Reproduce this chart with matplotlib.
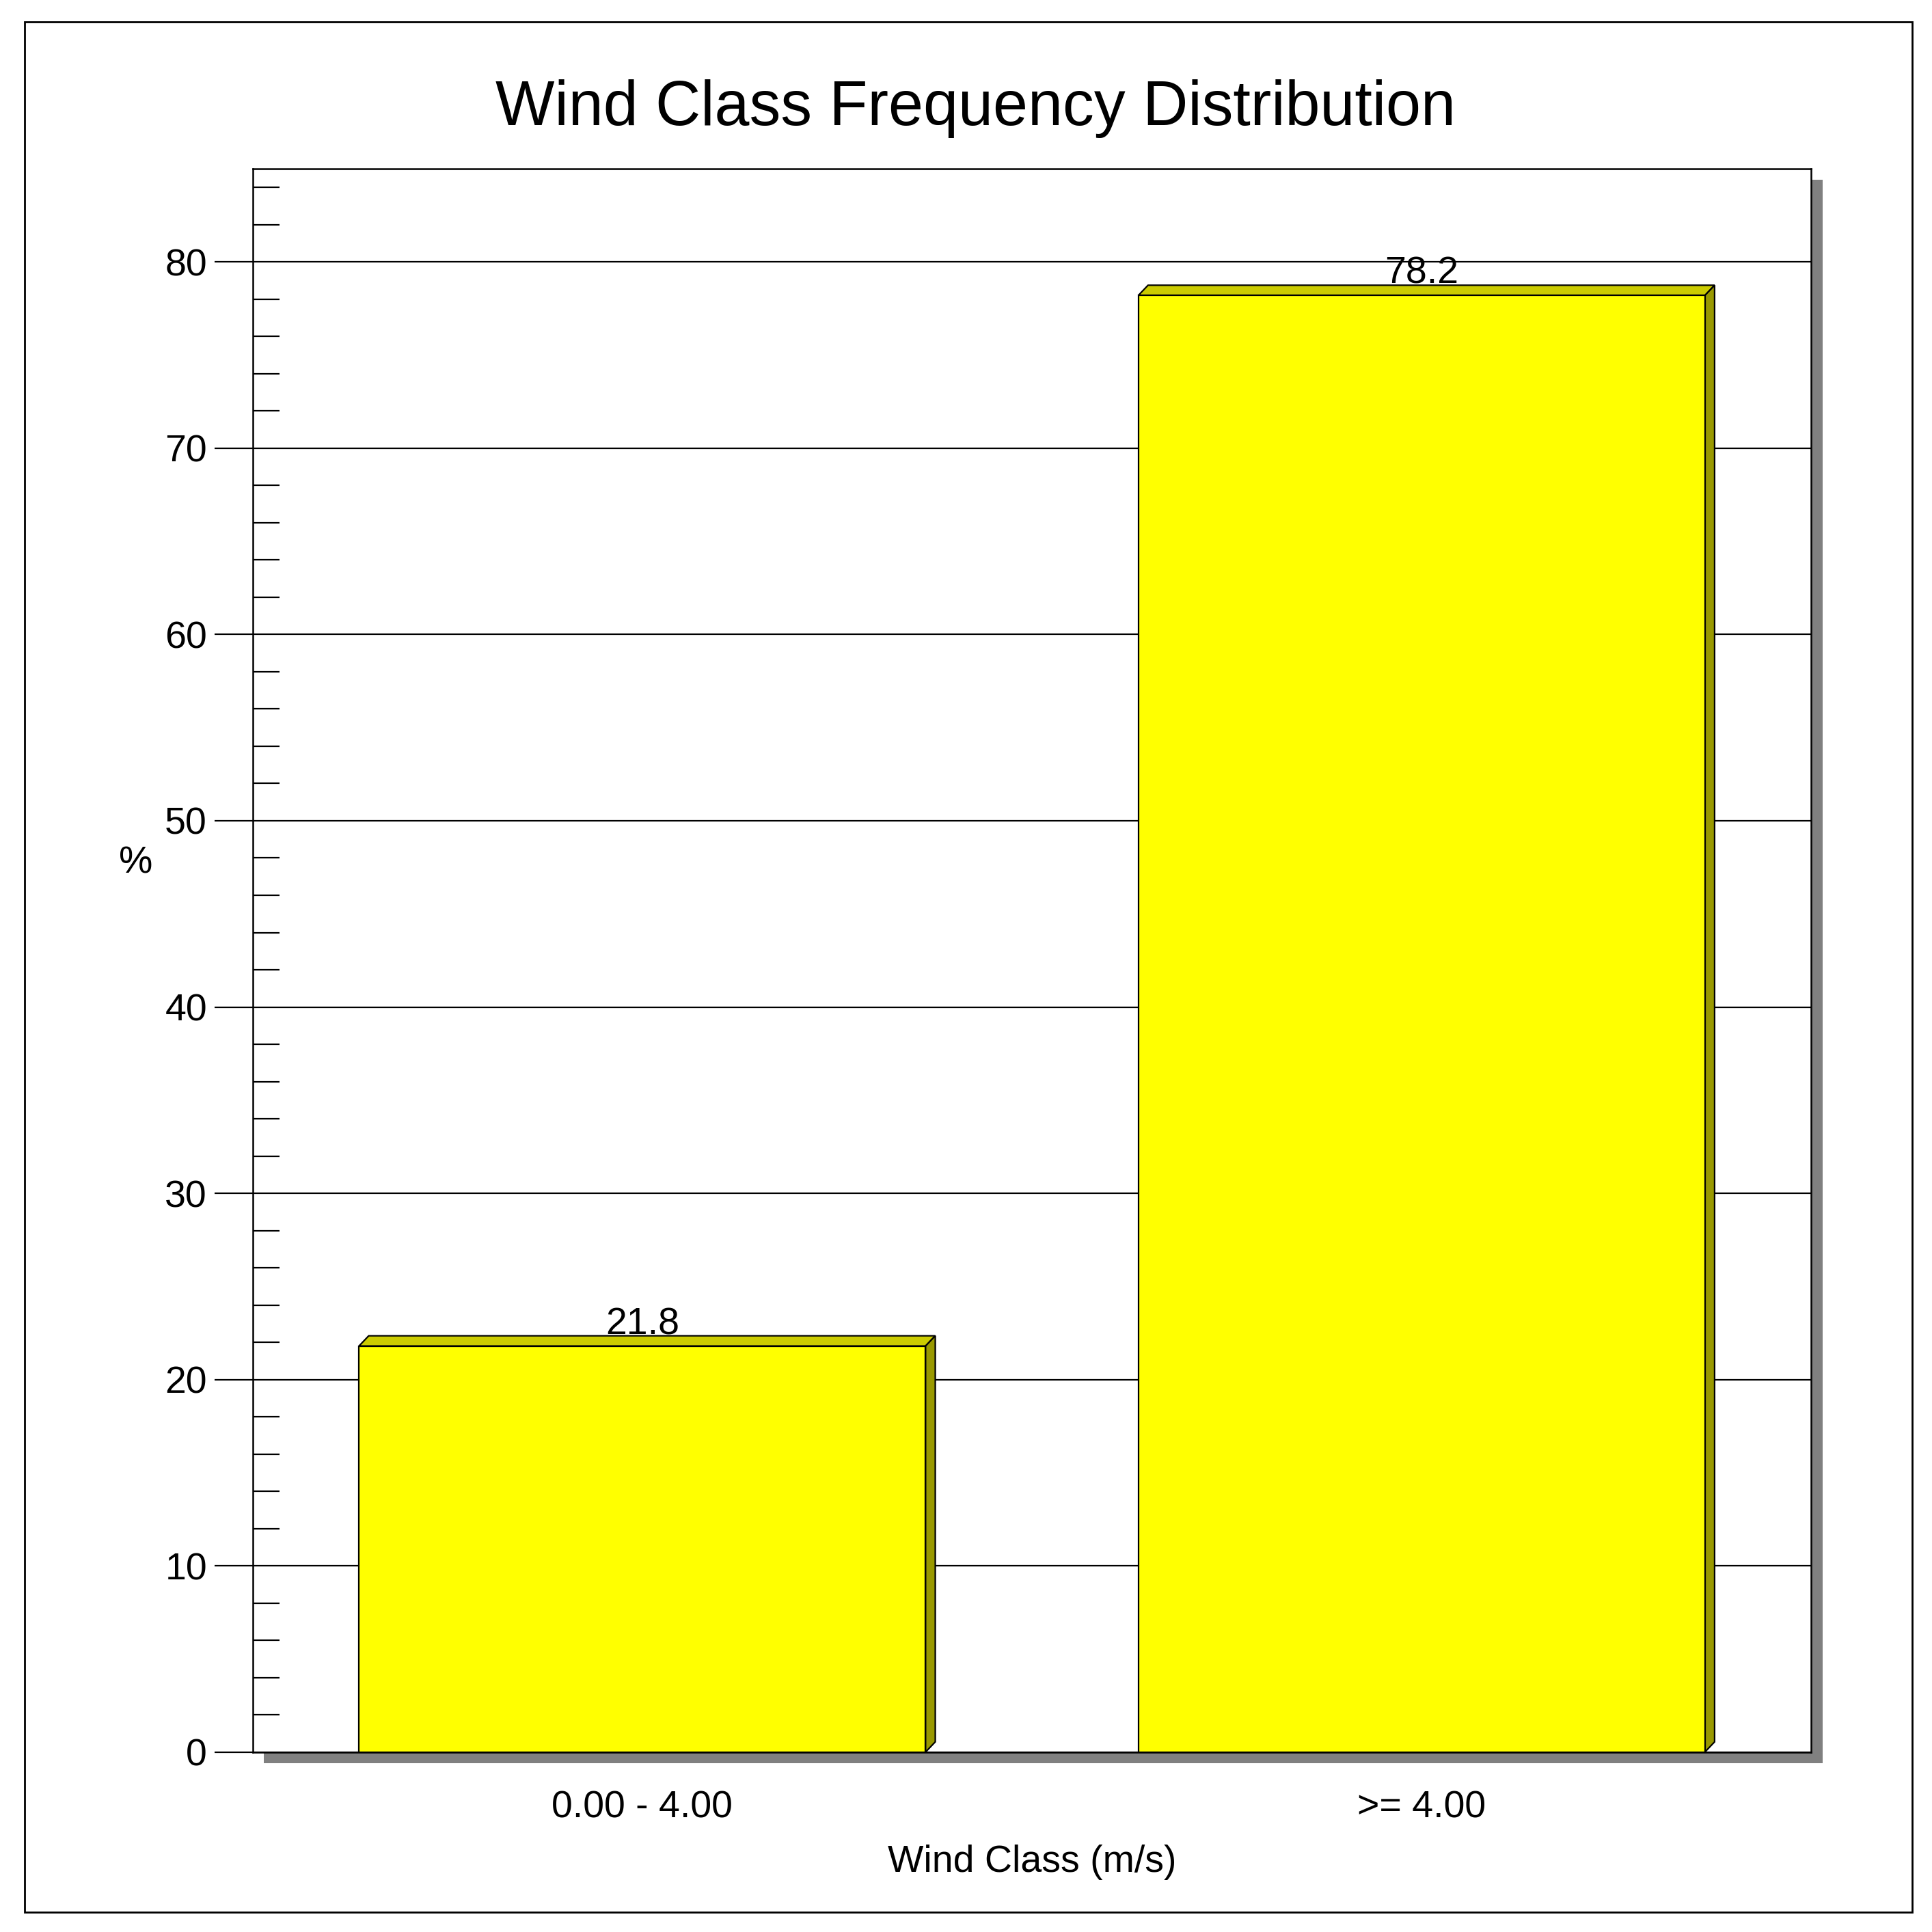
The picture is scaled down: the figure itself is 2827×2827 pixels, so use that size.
import matplotlib
matplotlib.use("Agg")
import matplotlib.pyplot as plt
from matplotlib.patches import Rectangle
import numpy as np

categories = ["0.00 - 4.00", ">= 4.00"]
values = [21.8, 78.2]
value_labels = ["21.8", "78.2"]

plt.rcParams['font.family'] = ['Liberation Sans', 'DejaVu Sans']
fig = plt.figure(figsize=(28.27, 28.27), dpi=100)
fig.patch.set_facecolor('white')
# outer frame
fig.add_artist(Rectangle((20/1568, 1-1552/1568), 1532/1568, 1534/1568, transform=fig.transFigure,
                         fill=False, edgecolor='black', linewidth=2))
L, R, B, T = 205/1568, 1470/1568, 1-1422/1568, 1-137/1568
s = 9/1568
fig.add_artist(Rectangle((L+s, B-s), R-L, T-B, transform=fig.transFigure,
                         facecolor='#808080', edgecolor='none', zorder=0))
ax = fig.add_axes([L, B, R-L, T-B])
ax.set_facecolor('white')
ax.set_zorder(1)
ax.set_xlim(-0.5, 1.5)
ax.set_ylim(0, 85)
ax.set_yticks(np.arange(0, 81, 10))
ax.set_yticks(np.arange(0, 85, 2), minor=True)
ax.grid(axis='y', which='major', color='black', linewidth=1.6, zorder=0)
ax.set_axisbelow(True)
x = np.arange(len(categories))
w = 0.727
dx, dy = 0.0125, 0.55
for xi, v, lab in zip(x, values, value_labels):
    x0, x1 = xi - w/2, xi + w/2
    ax.fill([x0, x1, x1+dx, x0+dx], [v, v, v+dy, v+dy], facecolor='#CCCC00', edgecolor='black', linewidth=1.6, zorder=3)
    ax.fill([x1, x1+dx, x1+dx, x1], [0, dy, v+dy, v], facecolor='#999900', edgecolor='black', linewidth=1.6, zorder=3)
    ax.bar(xi, v, width=w, color='#FFFF00', edgecolor='black', linewidth=1.6, zorder=4)
    ax.text(xi, v + 0.2, lab, ha='center', va='bottom', fontsize=40, zorder=5)
ax.set_xticks(x)
ax.set_xticklabels(categories)
ax.tick_params(axis='x', direction='in', length=30, width=1.6, labelsize=40, pad=40)
ax.tick_params(axis='y', which='major', direction='out', length=40, width=1.6, labelsize=40, pad=8)
ax.tick_params(axis='y', which='minor', direction='in', length=28, width=1.6)
for sp in ax.spines.values():
    sp.set_linewidth(1.8)
ax.set_xlabel("Wind Class (m/s)", fontsize=40, labelpad=20)
ax.set_ylabel("%", fontsize=40, rotation=0, labelpad=50)
ax.yaxis.set_label_coords(-0.075, 0.55)
fig.text(0.505, 1-88/1568, "Wind Class Frequency Distribution", ha='center', va='center', fontsize=66)
fig.savefig("out.png", dpi=100, facecolor='white')
